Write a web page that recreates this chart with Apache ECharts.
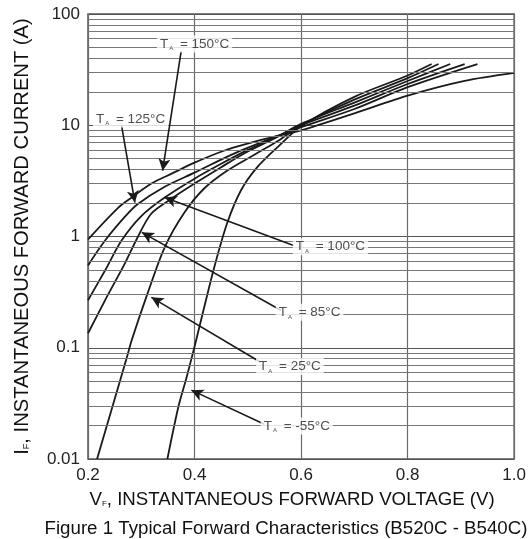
<!DOCTYPE html>
<html>
<head>
<meta charset="utf-8">
<script src="https://cdn.jsdelivr.net/npm/echarts@6/dist/echarts.min.js"></script>
<style>
  html, body { margin: 0; padding: 0; background: #fff; }
  #chart { width: 529px; height: 539px; }
</style>
</head>
<body>
<div id="chart"></div>
<script>
// forward characteristics, points are [VF (V), IF (A)]
const curveM55 = [[0.349,0.01],[0.37,0.03],[0.385,0.054],[0.403,0.117],[0.418,0.23],[0.437,0.53],[0.461,1.31],[0.487,2.59],[0.517,4.16],[0.558,6.5],[0.6,9.8],[0.7,18],[0.8,28],[0.845,35.5]];
const curve25 = [[0.217,0.01],[0.245,0.0286],[0.273,0.082],[0.282,0.117],[0.312,0.31],[0.344,0.8],[0.381,1.64],[0.418,2.7],[0.461,3.9],[0.517,5.6],[0.558,7.3],[0.6,10.0],[0.7,17],[0.8,26.5],[0.858,35.5]];
const curve85 = [[0.2,0.135],[0.232,0.267],[0.269,0.57],[0.293,0.98],[0.319,1.61],[0.357,2.19],[0.4,2.99],[0.45,4.2],[0.5,5.8],[0.55,7.6],[0.6,10.3],[0.7,16],[0.8,25],[0.88,35.5]];
const curve100 = [[0.2,0.267],[0.232,0.495],[0.263,0.92],[0.301,1.54],[0.344,2.24],[0.4,3.31],[0.45,4.5],[0.5,6.0],[0.55,7.7],[0.6,10.0],[0.7,15],[0.8,23.5],[0.907,35.5]];
const curve125 = [[0.2,0.55],[0.232,0.92],[0.269,1.5],[0.293,1.95],[0.344,2.8],[0.4,3.75],[0.474,5.55],[0.55,7.8],[0.6,9.6],[0.7,14],[0.8,22],[0.931,35.5]];
const curve150 = [[0.2,0.94],[0.256,1.8],[0.282,2.24],[0.319,2.99],[0.357,3.67],[0.4,4.61],[0.455,5.9],[0.506,6.97],[0.55,7.9],[0.6,9.0],[0.7,12.8],[0.8,18.5],[0.907,25.1],[1.0,29.6]];

const temps = ['-55', '25', '85', '100', '125', '150'];
const curves = [curveM55, curve25, curve85, curve100, curve125, curve150];

// annotation anchors (data coords): label centre, arrow tail, arrow tip
const labelAt = [[0.592,0.0198],[0.579,0.068],[0.616,0.208],[0.655,0.81],[0.28,11.4],[0.4,53.8]];
const arrowFrom = [[0.53,0.0206],[0.524,0.074],[0.562,0.217],[0.586,0.83],[0.263,9.9],[0.375,46.6]];
const arrowTo = [[0.394,0.0416],[0.319,0.284],[0.301,1.09],[0.344,2.24],[0.288,2.02],[0.34,3.9]];

const decades = [0.01, 0.1, 1, 10];

const FONT = 'Liberation Sans, Arial, sans-serif';

// minor log grid lines 2..9 in each decade
const minorLines = [];
decades.forEach(d => {
  for (let k = 2; k <= 9; k++) minorLines.push({ yAxis: +(d * k).toPrecision(3) });
});

const chart = echarts.init(document.getElementById('chart'));

const series = curves.map((c, i) => ({
  name: temps[i] + '°C',
  type: 'line',
  data: c,
  showSymbol: false,
  smooth: 0.3,
  lineStyle: { color: '#1a1a1a', width: 1.8 },
  z: 3
}));

series.push({
  name: 'grid',
  type: 'line',
  data: [],
  silent: true,
  markLine: {
    silent: true,
    symbol: ['none', 'none'],
    label: { show: false },
    lineStyle: { color: '#777', width: 1, type: 'solid' },
    data: minorLines
  },
  z: 1
});

series.push({
  name: 'arrows',
  type: 'line',
  data: [],
  silent: true,
  markLine: {
    silent: true,
    symbol: ['none', 'arrow'],
    symbolSize: [9, 12],
    label: { show: false },
    lineStyle: { color: '#1a1a1a', width: 1.6, type: 'solid' },
    data: arrowFrom.map((p, i) => [{ coord: p }, { coord: arrowTo[i] }])
  },
  z: 4
});

series.push({
  name: 'labels',
  type: 'scatter',
  data: labelAt.map((p, i) => ({ value: p, name: temps[i] })),
  symbolSize: 0,
  silent: true,
  label: {
    show: true,
    position: 'inside',
    formatter: p => '{t|T}{s|A}{t| = ' + p.name + '°C}',
    backgroundColor: '#fff',
    padding: [1, 3],
    rich: {
      t: { fontSize: 13.5, color: '#222', fontFamily: FONT },
      s: { fontSize: 6, color: '#222', fontFamily: FONT, padding: [9, 3, 0, 1] }
    }
  },
  z: 5
});

chart.setOption({
  animation: false,
  title: {
    text: 'Figure 1 Typical Forward Characteristics (B520C - B540C)',
    left: 281,
    textAlign: 'center',
    top: 514,
    textStyle: { fontSize: 18.7, fontWeight: 'normal', color: '#111', fontFamily: FONT }
  },
  grid: {
    left: 88, right: 12, top: 14, bottom: 80,
    show: true, borderColor: '#555', borderWidth: 1.5
  },
  xAxis: {
    type: 'value',
    min: 0.2, max: 1.0, interval: 0.2,
    name: '{n|V}{s|F}{n|, INSTANTANEOUS FORWARD VOLTAGE (V)}',
    nameLocation: 'middle',
    nameGap: 31,
    nameTextStyle: {
      padding: [0, 18, 0, 0],
      rich: {
        n: { fontSize: 18.7, color: '#111', fontFamily: FONT },
        s: { fontSize: 8, color: '#111', fontFamily: FONT, padding: [9, 0, 0, 0] }
      }
    },
    axisLine: { show: false },
    axisTick: { show: false },
    axisLabel: {
      fontSize: 17, color: '#222', fontFamily: FONT, margin: 8,
      formatter: v => v.toFixed(1)
    },
    splitLine: { show: true, lineStyle: { color: '#6a6a6a', width: 1.2 } }
  },
  yAxis: {
    type: 'log',
    logBase: 10,
    min: 0.01, max: 100,
    name: '{n|I}{s|F}{n|, INSTANTANEOUS FORWARD CURRENT (A)}',
    nameLocation: 'middle',
    nameGap: 56,
    nameTextStyle: {
      rich: {
        n: { fontSize: 20.2, color: '#111', fontFamily: FONT },
        s: { fontSize: 9, color: '#111', fontFamily: FONT, padding: [10, 0, 0, 0] }
      }
    },
    axisLine: { show: false },
    axisTick: { show: false },
    axisLabel: {
      fontSize: 17, color: '#222', fontFamily: FONT, margin: 8,
      formatter: v => String(+(+v).toPrecision(3))
    },
    splitLine: { show: true, lineStyle: { color: '#555', width: 1.2 } },
    minorSplitLine: { show: false }
  },
  series: series
});
</script>
</body>
</html>
